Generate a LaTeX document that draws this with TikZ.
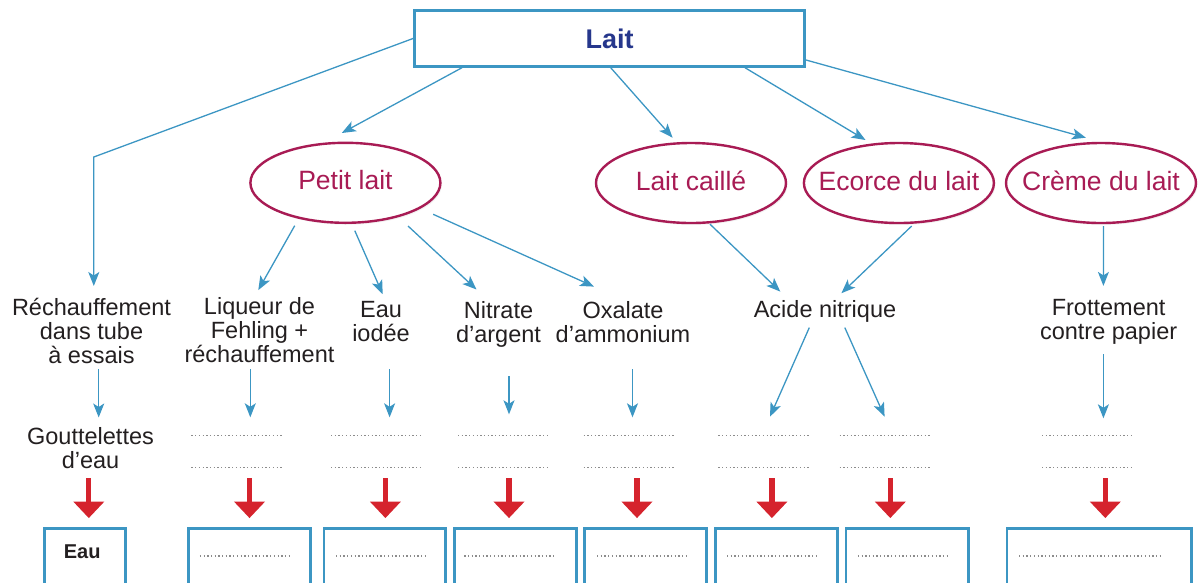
\documentclass[tikz,border=0pt]{standalone}
\usepackage{fontspec}
\setmainfont{Liberation Sans}
\usetikzlibrary{arrows.meta,shapes.geometric,shadows}
\definecolor{bl}{RGB}{60,150,195}
\definecolor{mag}{RGB}{168,27,84}
\definecolor{laitc}{RGB}{38,55,140}
\definecolor{rd}{RGB}{213,35,45}
\definecolor{txt}{RGB}{35,31,32}
\definecolor{dotc}{RGB}{140,140,140}
\begin{document}
\begin{tikzpicture}[x=1pt,y=-1pt,
  shd/.style={drop shadow={opacity=0.10,shadow xshift=1.5pt,shadow yshift=-2pt}},
  barrow/.style={draw=bl,line width=1.3pt,-{Stealth[length=14pt,width=11pt,inset=3.5pt]}},
  rarrow/.style={draw=rd,line width=5.3pt,-{Triangle[length=16.5pt,width=30pt]}},
  lbl/.style={align=center,inner sep=0pt,anchor=north,text=txt,font=\fontsize{23.5}{24}\selectfont},
  dots/.style={draw=dotc,line width=1.4pt,dash pattern=on 1.3pt off 2.4pt},
  ell/.style={ellipse,draw=mag,line width=2.4pt,fill=white,shd,minimum width=190pt,minimum height=80pt,inner xsep=-45pt,inner ysep=0pt,text=mag,font=\fontsize{26.5}{30}\selectfont,text height=19.3pt,text depth=5pt},
  topbox/.style={rectangle,draw=bl,line width=2.6pt,fill=white,shd,minimum width=390.4pt,minimum height=55.8pt,inner sep=0pt,text=laitc,font=\fontsize{27}{30}\selectfont\bfseries,text height=19.3pt,text depth=0pt},
  resbox/.style={rectangle,draw=bl,line width=2.8pt,fill=white,shd,minimum height=80pt,inner sep=0pt,anchor=north}
]
\useasboundingbox (0,0) rectangle (1199,582);
\clip (0,0) rectangle (1199,582);

% main nodes
\node[topbox] (lait) at (609.5,38.5) {Lait};
\node[ell] (pl) at (345.4,182.8) {Petit lait};
\node[ell] (lc) at (691,183) {Lait caillé};
\node[ell] (ec) at (898.9,183) {Ecorce du lait};
\node[ell] (cr) at (1101,183) {Crème du lait};

% labels
\node[lbl] (rech) at (91.5,297.8) {Réchauffement\\dans tube\\à essais};
\node[lbl] (liq) at (259.5,297.1) {Liqueur de\\Fehling +\\réchauffement};
\node[lbl] (eau) at (381,301.2) {Eau\\iodée};
\node[lbl] (nit) at (498.5,301.2) {Nitrate\\d’argent};
\node[lbl] (oxa) at (623,300.9) {Oxalate\\d’ammonium};
\node[lbl] (acid) at (825,300.6) {Acide nitrique};
\node[lbl] (frot) at (1108.6,299.2) {Frottement\\contre papier};
\node[lbl] (gout) at (90.5,427.2) {Gouttelettes\\d’eau};

% result boxes
\node[resbox,minimum width=81.4pt] (b1) at (85,526.9) {};
\node[resbox,minimum width=122.3pt] (b2) at (249.35,526.9) {};
\node[resbox,minimum width=121.6pt] (b3) at (384.8,526.9) {};
\node[resbox,minimum width=122.4pt] (b4) at (515.3,526.9) {};
\node[resbox,minimum width=122.4pt] (b5) at (645.5,526.9) {};
\node[resbox,minimum width=122.1pt] (b6) at (776.25,526.9) {};
\node[resbox,minimum width=122.4pt] (b7) at (907.1,526.9) {};
\node[resbox,minimum width=184.8pt] (b8) at (1099.4,526.9) {};
\node[anchor=base,inner sep=0pt,text=txt,font=\fontsize{20}{24}\selectfont\bfseries] (eaub) at (82.2,558.3) {Eau};

% dotted answer lines in boxes
\draw[dots] (199.8,556) -- (290.9,556);
\draw[dots] (336,556) -- (427.5,556);
\draw[dots] (464.2,556) -- (555,556);
\draw[dots] (597,556) -- (687.9,556);
\draw[dots] (727,556) -- (818.5,556);
\draw[dots] (857.8,556) -- (948.7,556);
\draw[dots] (1019,556) -- (1161.5,556);

% dotted observation lines
\foreach \xa/\xb in {191.4/283.2,331/422,458/549,583.6/674.5,718.4/809,839.5/930.4,1042/1132.9}{
  \draw[dots] (\xa,435.7) -- (\xb,435.7);
  \draw[dots] (\xa,467.7) -- (\xb,467.7);
}
\coordinate (o2) at (250.3,427);
\coordinate (o3) at (389.6,427);
\coordinate (o4) at (509,427);
\coordinate (o5) at (632.5,427);
\coordinate (o6) at (770,427);
\coordinate (o7) at (884.6,427);
\coordinate (o8) at (1103.4,427);

% connectors from Lait
\coordinate (k1) at (93.8,157);
\draw[barrow] (lait.west) -- (k1) -- ([shift={(2.3,-11.8)}]rech.north);
\draw[barrow] ([shift={(49,0)}]lait.south west) -- ([shift={(-3.6,-8.6)}]pl.north);
\draw[barrow] ([shift={(1.2,0)}]lait.south) -- ([shift={(-18.4,-4.1)}]lc.north);
\draw[barrow] ([shift={(135.5,0)}]lait.south) -- ([shift={(-33.4,-1.8)}]ec.north);
\draw[barrow] ([shift={(0,-7.7)}]lait.south east) -- ([shift={(-15.1,-4.1)}]cr.north);

% connectors from ellipses
\draw[barrow] ([shift={(-50.7,1.7)}]pl.south) -- ([shift={(-1.2,-7)}]liq.north);
\draw[barrow] ([shift={(9.4,6.7)}]pl.south) -- ([shift={(1.7,-7)}]eau.north);
\draw[barrow] ([shift={(62.6,2)}]pl.south) -- ([shift={(-22,-11.7)}]nit.north);
\draw[barrow] ([shift={(87.8,-9.7)}]pl.south) -- ([shift={(-29,-14.3)}]oxa.north);
\draw[barrow] ([shift={(19,0)}]lc.south) -- ([shift={(-44.7,-9)}]acid.north);
\draw[barrow] ([shift={(12.8,1.8)}]ec.south) -- ([shift={(16.4,-7.4)}]acid.north);
\draw[barrow] ([shift={(2.4,1.8)}]cr.south) -- ([shift={(-5.2,-13.3)}]frot.north);

% second row of blue arrows
\draw[barrow] (98.7,369.3) -- ([shift={(8.2,-9.7)}]gout.north);
\draw[barrow] (250.3,369.3) -- ([shift={(0,-9.7)}]o2);
\draw[barrow] (389.6,369.3) -- ([shift={(0,-9.7)}]o3);
\draw[barrow] (509,376) -- ([shift={(0,-12.7)}]o4);
\draw[barrow] (632.5,369.3) -- ([shift={(0,-9.7)}]o5);
\draw[barrow] ([shift={(-15.7,27)}]acid.north) -- ([shift={(0,-10.3)}]o6);
\draw[barrow] ([shift={(19.8,27)}]acid.north) -- ([shift={(0,-10.3)}]o7);
\draw[barrow] (1103.4,354) -- ([shift={(0,-8.7)}]o8);

% red arrows
\draw[rarrow] ([shift={(3.8,-48.8)}]b1.north) -- ([shift={(3.8,-8.8)}]b1.north);
\draw[rarrow] ([shift={(0.15,-48.8)}]b2.north) -- ([shift={(0.15,-8.8)}]b2.north);
\draw[rarrow] ([shift={(0.6,-48.8)}]b3.north) -- ([shift={(0.6,-8.8)}]b3.north);
\draw[rarrow] ([shift={(-6.3,-48.8)}]b4.north) -- ([shift={(-6.3,-8.8)}]b4.north);
\draw[rarrow] ([shift={(-8.5,-48.8)}]b5.north) -- ([shift={(-8.5,-8.8)}]b5.north);
\draw[rarrow] ([shift={(-4.35,-48.8)}]b6.north) -- ([shift={(-4.35,-8.8)}]b6.north);
\draw[rarrow] ([shift={(-16.8,-48.8)}]b7.north) -- ([shift={(-16.8,-8.8)}]b7.north);
\draw[rarrow] ([shift={(5.9,-48.8)}]b8.north) -- ([shift={(5.9,-8.8)}]b8.north);
\end{tikzpicture}
\end{document}
